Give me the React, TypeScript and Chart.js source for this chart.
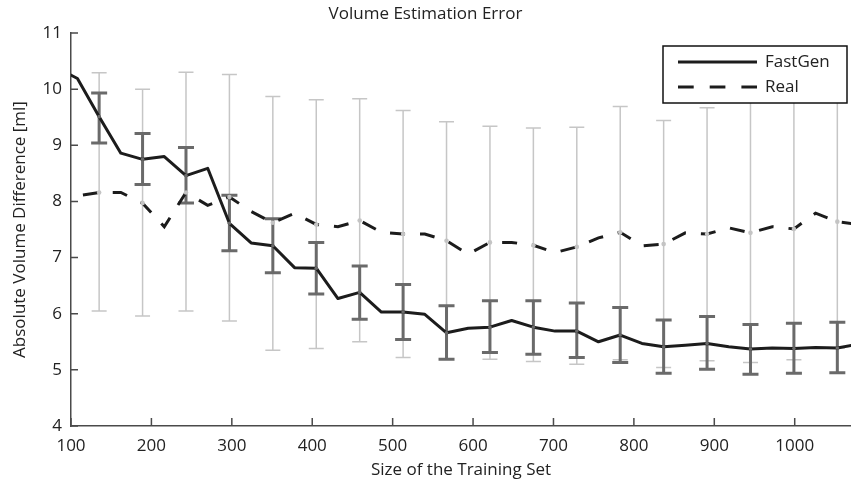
import React, { useEffect, useRef } from "react";
import { Chart, registerables } from "chart.js";

Chart.register(...registerables);

// Training set sizes for the two curves
const sizes = [81, 108, 135, 162, 189, 216, 243, 270, 297, 324, 351, 378, 405, 432, 459, 486, 513, 540, 567, 594, 621, 648, 675, 702, 729, 756, 783, 810, 837, 864, 891, 918, 945, 972, 999, 1026, 1053, 1080];
const fastGen = [10.39, 10.19, 9.51, 8.86, 8.75, 8.8, 8.46, 8.59, 7.61, 7.26, 7.21, 6.82, 6.81, 6.27, 6.38, 6.03, 6.03, 5.99, 5.66, 5.74, 5.76, 5.88, 5.76, 5.69, 5.69, 5.5, 5.62, 5.47, 5.41, 5.44, 5.47, 5.41, 5.37, 5.39, 5.38, 5.4, 5.39, 5.46];
const real = [7.9, 8.1, 8.16, 8.16, 7.97, 7.55, 8.16, 7.93, 8.08, 7.82, 7.62, 7.79, 7.59, 7.55, 7.66, 7.45, 7.42, 7.42, 7.3, 7.06, 7.27, 7.27, 7.22, 7.09, 7.19, 7.35, 7.45, 7.21, 7.24, 7.44, 7.42, 7.53, 7.44, 7.55, 7.51, 7.79, 7.64, 7.59];

// Error bars (every second size)
const barSizes = [135, 189, 243, 297, 351, 405, 459, 513, 567, 621, 675, 729, 783, 837, 891, 945, 999, 1053];
const fastGenMean = [9.51, 8.75, 8.46, 7.61, 7.21, 6.81, 6.38, 6.03, 5.66, 5.76, 5.76, 5.69, 5.62, 5.41, 5.47, 5.37, 5.38, 5.39];
const fastGenUpper = [9.93, 9.21, 8.96, 8.11, 7.69, 7.27, 6.85, 6.52, 6.14, 6.23, 6.23, 6.19, 6.11, 5.89, 5.95, 5.81, 5.83, 5.85];
const fastGenLower = [9.04, 8.3, 7.97, 7.12, 6.73, 6.35, 5.9, 5.54, 5.19, 5.31, 5.28, 5.22, 5.13, 4.94, 5.01, 4.92, 4.94, 4.95];
const realMean = [8.16, 7.97, 8.16, 8.08, 7.62, 7.59, 7.66, 7.42, 7.3, 7.27, 7.22, 7.19, 7.45, 7.24, 7.42, 7.44, 7.51, 7.64];
const realUpper = [10.29, 10.0, 10.3, 10.26, 9.87, 9.81, 9.83, 9.62, 9.42, 9.34, 9.31, 9.32, 9.69, 9.44, 9.67, 9.9, 9.9, 9.9];
const realLower = [6.05, 5.96, 6.05, 5.87, 5.35, 5.38, 5.5, 5.22, 5.19, 5.19, 5.15, 5.1, 5.18, 5.04, 5.16, 5.13, 5.18, 5.39];

// Axis ticks
const xTickValues = [100, 200, 300, 400, 500, 600, 700, 800, 900, 1000];
const yTickValues = [4, 5, 6, 7, 8, 9, 10, 11];

const FONT = "'Open Sans', 'Noto Sans', sans-serif";
const FS = 17;
const TEXT = "#222";
const AXIS = "#4a4a4a";
const LINE = "#1c1c1c";
const DARK_BAR = "#6a6a6a";
const LIGHT_BAR = "#c6c6c6";

const errorBarPlugin = {
  id: "errorBars",
  beforeDatasetsDraw(chart: any) {
    const { ctx, scales } = chart;
    const x = scales.x;
    const y = scales.y;
    ctx.save();
    const drawBars = (xs: number[], lo: number[], hi: number[], color: string, width: number, cap: number) => {
      ctx.strokeStyle = color;
      ctx.lineWidth = width;
      ctx.lineCap = "butt";
      xs.forEach((v, i) => {
        const px = x.getPixelForValue(v);
        const pl = y.getPixelForValue(lo[i]);
        const ph = y.getPixelForValue(hi[i]);
        ctx.beginPath();
        ctx.moveTo(px, pl);
        ctx.lineTo(px, ph);
        ctx.moveTo(px - cap, pl);
        ctx.lineTo(px + cap, pl);
        ctx.moveTo(px - cap, ph);
        ctx.lineTo(px + cap, ph);
        ctx.stroke();
      });
    };
    drawBars(barSizes, realLower, realUpper, LIGHT_BAR, 1.5, 7.5);
    drawBars(barSizes, fastGenLower, fastGenUpper, DARK_BAR, 3, 8);
    ctx.restore();
  },
  afterDatasetsDraw(chart: any) {
    const { ctx, scales } = chart;
    const x = scales.x;
    const y = scales.y;
    ctx.save();
    const dots = (xs: number[], ys: number[], color: string, r: number) => {
      ctx.fillStyle = color;
      xs.forEach((v, i) => {
        ctx.beginPath();
        ctx.arc(x.getPixelForValue(v), y.getPixelForValue(ys[i]), r, 0, Math.PI * 2);
        ctx.fill();
      });
    };
    dots(barSizes, realMean, "#c4c4c4", 2.3);
    dots(barSizes, fastGenMean, DARK_BAR, 1.8);
    ctx.restore();
  },
};

const axisTicksPlugin = {
  id: "insideTicks",
  afterDraw(chart: any) {
    const { ctx, scales, chartArea } = chart;
    const x = scales.x;
    const y = scales.y;
    ctx.save();
    ctx.strokeStyle = AXIS;
    ctx.lineWidth = 1.5;
    ctx.beginPath();
    xTickValues.forEach((v) => {
      const px = x.getPixelForValue(v);
      ctx.moveTo(px, chartArea.bottom);
      ctx.lineTo(px, chartArea.bottom - 8);
    });
    yTickValues.forEach((v) => {
      const py = y.getPixelForValue(v);
      ctx.moveTo(chartArea.left, py);
      ctx.lineTo(chartArea.left + 7, py);
    });
    ctx.stroke();
    ctx.restore();
  },
};

const boxLegendPlugin = {
  id: "boxLegend",
  afterDraw(chart: any) {
    const { ctx } = chart;
    const left = 663;
    const top = 46;
    const w = 184;
    const h = 57;
    ctx.save();
    ctx.fillStyle = "#fff";
    ctx.fillRect(left, top, w, h);
    ctx.strokeStyle = "#111";
    ctx.lineWidth = 1.5;
    ctx.strokeRect(left, top, w, h);
    const rows = [
      { y: top + 16, dash: [] as number[] },
      { y: top + 41, dash: [15.7, 16] },
    ];
    chart.data.datasets.forEach((ds: any, i: number) => {
      const r = rows[i];
      ctx.strokeStyle = LINE;
      ctx.lineWidth = 3;
      ctx.setLineDash(r.dash);
      ctx.beginPath();
      ctx.moveTo(678, r.y);
      ctx.lineTo(757, r.y);
      ctx.stroke();
      ctx.setLineDash([]);
      ctx.fillStyle = TEXT;
      ctx.font = `${FS}px ${FONT}`;
      ctx.textBaseline = "middle";
      ctx.textAlign = "left";
      ctx.fillText(ds.label, 765, r.y);
    });
    ctx.restore();
  },
};

export default function App() {
  const canvasRef = useRef<HTMLCanvasElement | null>(null);

  useEffect(() => {
    const canvas = canvasRef.current;
    if (!canvas) return;
    const chart = new Chart(canvas, {
      type: "line",
      data: {
        datasets: [
          {
            label: "FastGen",
            data: sizes.map((s, i) => ({ x: s, y: fastGen[i] })),
            borderColor: LINE,
            backgroundColor: LINE,
            borderWidth: 3,
            pointRadius: 0,
            tension: 0,
            borderJoinStyle: "round",
          },
          {
            label: "Real",
            data: sizes.map((s, i) => ({ x: s, y: real[i] })),
            borderColor: LINE,
            backgroundColor: LINE,
            borderWidth: 3,
            borderDash: [15, 15],
            pointRadius: 0,
            tension: 0,
          },
        ],
      },
      options: {
        animation: false,
        responsive: false,
        devicePixelRatio: 1,
        layout: { padding: 0 },
        plugins: {
          legend: { display: false },
          tooltip: { enabled: false },
          title: {
            display: true,
            text: "Volume Estimation Error",
            color: TEXT,
            font: { family: FONT, size: FS, weight: "normal" },
            padding: { top: 3.8, bottom: 8.8 },
          },
        },
        scales: {
          x: {
            type: "linear",
            min: 100,
            max: 1070,
            afterBuildTicks: (scale: any) => {
              scale.ticks = xTickValues.map((v) => ({ value: v }));
            },
            afterFit: (scale: any) => {
              scale.height = 57;
            },
            grid: { display: false, drawTicks: false },
            border: { display: true, color: AXIS, width: 1.5 },
            ticks: {
              color: TEXT,
              padding: 9.5,
              maxRotation: 0,
              autoSkip: false,
              font: { family: FONT, size: FS },
              callback: (v: any) => String(v),
            },
            title: {
              display: true,
              text: "Size of the Training Set",
              color: TEXT,
              font: { family: FONT, size: FS },
              padding: { top: 0, bottom: 2.3 },
            },
          },
          y: {
            type: "linear",
            min: 4,
            max: 11,
            afterBuildTicks: (scale: any) => {
              scale.ticks = yTickValues.map((v) => ({ value: v }));
            },
            afterFit: (scale: any) => {
              scale.width = 71;
            },
            grid: { display: false, drawTicks: false },
            border: { display: true, color: AXIS, width: 1.5 },
            ticks: {
              color: TEXT,
              padding: 9,
              autoSkip: false,
              font: { family: FONT, size: FS },
              callback: (v: any) => String(v),
            },
            title: {
              display: true,
              text: "Absolute Volume Difference [ml]",
              color: TEXT,
              font: { family: FONT, size: FS },
              padding: { top: 9.8, bottom: 0 },
            },
          },
        },
      },
      plugins: [errorBarPlugin, axisTicksPlugin, boxLegendPlugin],
    } as any);
    return () => chart.destroy();
  }, []);

  return (
    <div style={{ position: "absolute", left: 0, top: 0, width: 851, height: 483, background: "#fff" }}>
      <canvas ref={canvasRef} width={851} height={483} style={{ display: "block" }} />
    </div>
  );
}
